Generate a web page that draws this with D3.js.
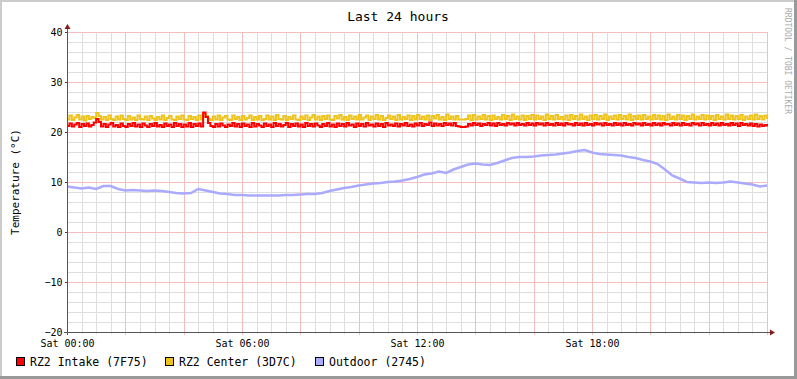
<!DOCTYPE html>
<html><head><meta charset="utf-8">
<script src="https://cdn.jsdelivr.net/npm/d3@7"></script>
<style>
html,body{margin:0;padding:0;background:#fff;}
text{font-family:"DejaVu Sans Mono",monospace;}
</style></head>
<body>
<svg id="chart" width="797" height="379"></svg>
<script>
// ---- data (5-min steps for RZ2 sensors, 15-min steps for outdoor) ----
const seriesNames = ["RZ2 Intake (7F75)", "RZ2 Center (3D7C)", "Outdoor (2745)"];
const seriesColors = ["#FF0000", "#EEC31E", "#AAAAFF"];
const yTicks = [-20, -10, 0, 10, 20, 30, 40];
const xTickHours = [0, 6, 12, 18];
const xTickLabels = ["Sat 00:00", "Sat 06:00", "Sat 12:00", "Sat 18:00"];

const intake = [
21.2,21.7,21.1,21.5,21.8,21.0,21.6,21.2,21.7,21.1,21.4,21.9,22.6,22.0,21.1,21.6,21.0,21.5,21.8,21.1,21.4,21.0,21.7,21.2,
21.0,21.6,21.2,21.8,21.1,21.5,21.0,21.7,21.3,21.0,21.6,21.2,21.8,21.1,21.4,21.0,21.7,21.2,21.5,21.0,21.8,21.2,21.6,21.0,
21.5,21.1,21.8,21.0,21.6,21.2,21.7,21.1,23.9,23.0,21.8,21.2,21.0,21.6,21.1,21.7,21.3,21.0,21.5,21.2,21.8,21.1,21.6,21.0,
21.7,21.2,21.5,21.0,21.8,21.1,21.6,21.3,21.0,21.7,21.2,21.5,21.0,21.8,21.2,21.6,21.1,21.4,21.8,21.0,21.6,21.2,21.7,21.1,
21.5,21.0,21.8,21.2,21.6,21.1,21.7,21.3,21.0,21.6,21.2,21.8,21.1,21.5,21.0,21.7,21.2,21.6,21.1,21.8,21.3,21.5,21.0,21.7,
21.2,21.6,21.1,21.8,21.3,21.5,21.1,21.7,21.2,21.6,21.0,21.8,21.3,21.5,21.2,21.7,21.1,21.6,21.3,21.8,21.2,21.5,21.1,21.7,
21.3,21.8,21.2,21.6,21.4,21.9,21.2,21.7,21.3,21.6,21.2,21.8,21.4,21.7,21.3,21.8,21.2,21.1,21.0,21.0,21.1,21.6,21.3,21.8,
21.4,21.7,21.2,21.6,21.4,21.8,21.3,21.7,21.2,21.8,21.4,21.6,21.3,21.8,21.5,21.7,21.3,21.8,21.4,21.6,21.3,21.8,21.4,21.7,
21.3,21.8,21.5,21.7,21.3,21.8,21.4,21.6,21.3,21.8,21.4,21.7,21.3,21.8,21.5,21.6,21.3,21.8,21.4,21.7,21.3,21.8,21.4,21.6,
21.3,21.8,21.5,21.7,21.3,21.8,21.4,21.6,21.3,21.8,21.4,21.7,21.3,21.8,21.4,21.6,21.3,21.8,21.5,21.7,21.3,21.8,21.4,21.6,
21.3,21.8,21.4,21.7,21.3,21.8,21.5,21.6,21.3,21.8,21.4,21.7,21.3,21.8,21.4,21.6,21.3,21.8,21.5,21.7,21.3,21.8,21.4,21.6,
21.3,21.8,21.4,21.7,21.3,21.8,21.4,21.6,21.3,21.8,21.4,21.7,21.2,21.8,21.4,21.6,21.3,21.7,21.2,21.6,21.1,21.5,21.2,21.4,
21.1
];
const center = [
22.5,23.3,22.4,22.9,23.4,22.5,23.1,22.3,23.2,22.6,23.0,22.8,23.8,23.2,22.5,23.0,22.4,23.3,22.6,22.4,23.1,22.5,23.3,22.6,
22.4,23.2,22.5,22.9,22.4,23.3,22.6,22.5,23.1,22.4,23.2,22.7,22.4,23.0,22.5,23.3,22.4,22.8,23.2,22.5,22.4,23.1,22.6,23.3,
22.5,22.4,23.2,22.6,23.0,22.4,23.3,22.5,23.6,23.2,22.6,22.4,23.1,22.5,23.3,22.4,22.9,23.2,22.5,22.4,23.3,22.6,23.0,22.4,
23.2,22.5,22.8,23.3,22.4,23.0,22.5,23.2,22.4,22.6,23.3,22.5,23.1,22.4,23.4,22.6,22.5,23.2,22.4,23.0,22.6,23.3,22.5,22.4,
23.1,22.6,23.3,22.4,22.9,23.4,22.5,23.1,22.4,23.2,22.6,23.3,22.5,22.4,23.2,22.7,23.4,22.5,23.0,22.4,23.3,22.6,23.1,22.5,
23.4,22.5,22.9,23.3,22.4,23.1,22.6,23.4,22.5,23.2,22.4,22.8,23.3,22.6,23.1,22.4,23.4,22.5,23.0,22.6,23.3,22.4,23.2,22.5,
23.4,22.6,23.1,22.5,23.3,22.4,23.2,22.7,23.4,22.5,23.0,22.4,23.5,22.6,23.1,22.5,23.2,22.5,22.5,22.5,22.6,23.3,22.4,23.4,
22.5,23.1,22.6,23.4,22.5,23.2,22.4,23.3,22.6,23.0,22.5,23.4,22.6,23.2,22.4,23.5,22.6,23.1,22.5,23.3,22.4,23.2,22.6,23.4,
22.5,23.3,22.6,23.1,22.4,23.5,22.6,23.2,22.5,23.4,22.6,23.0,22.5,23.3,22.4,23.4,22.6,23.2,22.5,23.5,22.6,23.1,22.4,23.3,
22.6,23.4,22.5,23.2,22.6,23.5,22.4,23.1,22.6,23.3,22.5,23.4,22.6,23.2,22.5,23.5,22.4,23.2,22.6,23.3,22.5,23.4,22.6,23.1,
22.5,23.4,22.6,23.3,22.5,23.2,22.4,23.5,22.6,23.1,22.5,23.4,22.6,23.3,22.4,23.2,22.6,23.5,22.5,23.1,22.6,23.4,22.5,23.3,
22.6,23.2,22.4,23.4,22.6,23.1,22.5,23.5,22.6,23.3,22.5,23.2,22.6,23.4,22.4,23.1,22.6,23.3,22.5,23.5,22.6,23.2,22.5,23.3,
22.6
];
const outdoor = [
9.1,8.9,8.7,8.9,8.6,9.2,9.2,8.6,8.3,8.4,8.3,8.2,8.3,8.2,8.0,7.8,7.7,7.8,8.6,8.3,
8.0,7.7,7.6,7.4,7.4,7.3,7.3,7.3,7.3,7.3,7.4,7.4,7.5,7.6,7.6,7.8,8.2,8.5,8.8,9.0,
9.3,9.5,9.7,9.8,10.0,10.1,10.3,10.6,11.0,11.5,11.7,12.1,11.8,12.5,13.0,13.5,13.7,13.5,13.4,13.8,
14.3,14.8,15.0,15.0,15.1,15.3,15.4,15.5,15.7,15.9,16.2,16.4,15.9,15.6,15.5,15.4,15.3,15.0,14.8,14.4,
14.1,13.6,12.5,11.3,10.7,10.0,9.9,9.8,9.9,9.8,9.9,10.1,9.9,9.7,9.5,9.1,9.3
];

// ---- layout ----
const svg = d3.select("#chart");
const X0 = 67, X1 = 767, Y0 = 32, Y1 = 332;
const x = d3.scaleLinear().domain([0, 24]).range([X0, X1]);
const y = d3.scaleLinear().domain([-20, 40]).range([Y1, Y0]);

// background + frame
svg.append("rect").attr("width", 797).attr("height", 379).attr("fill", "#fff");
svg.append("rect").attr("x", 0).attr("y", 0).attr("width", 797).attr("height", 2).attr("fill", "#CCCCCC");
svg.append("rect").attr("x", 0).attr("y", 0).attr("width", 2).attr("height", 379).attr("fill", "#CCCCCC");
svg.append("rect").attr("x", 0).attr("y", 376).attr("width", 797).attr("height", 3).attr("fill", "#999999");
svg.append("rect").attr("x", 794).attr("y", 0).attr("width", 3).attr("height", 379).attr("fill", "#999999");

// grid
const g = svg.append("g").attr("shape-rendering", "crispEdges");
const minorY = d3.range(-20, 40.01, 2).filter(v => v % 10 !== 0);
const minorX = d3.range(0, 24.01, 0.5).filter(h => h % 2 !== 0);
const majorX = d3.range(2, 24.01, 2);
g.selectAll(".mny").data(minorY).join("line")
  .attr("x1", X0).attr("x2", X1).attr("y1", d => Math.round(y(d)) + 0.5).attr("y2", d => Math.round(y(d)) + 0.5)
  .attr("stroke", "#DEDEDE");
g.selectAll(".mnx").data(minorX).join("line")
  .attr("y1", Y0).attr("y2", Y1 + 2).attr("x1", d => Math.round(x(d)) + 0.5).attr("x2", d => Math.round(x(d)) + 0.5)
  .attr("stroke", "#DEDEDE");
g.selectAll(".mjy").data(yTicks.filter(v => v !== -20)).join("line")
  .attr("x1", X0 - 2).attr("x2", X1).attr("y1", d => Math.round(y(d)) + 0.5).attr("y2", d => Math.round(y(d)) + 0.5)
  .attr("stroke", "#F4BEBE");
g.selectAll(".mjx").data(majorX).join("line")
  .attr("y1", Y0).attr("y2", Y1 + 3).attr("x1", d => Math.round(x(d)) + 0.5).attr("x2", d => Math.round(x(d)) + 0.5)
  .attr("stroke", "#F4BEBE");

// series
const lineStep = d3.line().x((d, i) => x(i / 12)).y(d => y(d)).curve(d3.curveStepAfter);
const lineOut = d3.line().x((d, i) => x(i / 4)).y(d => y(d));
svg.append("path").datum(center).attr("d", lineStep).attr("fill", "none")
  .attr("stroke", seriesColors[1]).attr("stroke-width", 2);
svg.append("path").datum(intake).attr("d", lineStep).attr("fill", "none")
  .attr("stroke", seriesColors[0]).attr("stroke-width", 2);
svg.append("path").datum(outdoor).attr("d", lineOut).attr("fill", "none")
  .attr("stroke", seriesColors[2]).attr("stroke-width", 2.5);

// axes
const yAxis = d3.axisLeft(y).tickValues(yTicks).tickSize(3).tickSizeOuter(0);
const ya = svg.append("g").attr("transform", `translate(${X0 + 0.5},0)`).call(yAxis);
ya.select(".domain").remove();
ya.selectAll(".tick line").attr("stroke", "#404040").attr("shape-rendering", "crispEdges");
ya.selectAll(".tick text").attr("font-size", 10).attr("fill", "#000").attr("x", -5)
  .attr("font-family", "DejaVu Sans Mono");

const xAxis = d3.axisBottom(x).tickValues(xTickHours).tickFormat((d, i) => xTickLabels[i]).tickSize(0).tickSizeOuter(0);
const xa = svg.append("g").attr("transform", `translate(0,${Y1})`).call(xAxis);
xa.select(".domain").remove();
xa.selectAll(".tick text").attr("font-size", 10).attr("fill", "#000").attr("y", 8)
  .attr("font-family", "DejaVu Sans Mono");

// axis lines and arrows
svg.append("line").attr("x1", X0 + 0.5).attr("x2", X0 + 0.5).attr("y1", Y1 + 3).attr("y2", Y0 - 4)
  .attr("stroke", "#555").attr("shape-rendering", "crispEdges");
svg.append("line").attr("x1", X0 - 3).attr("x2", X1 + 4).attr("y1", Y1 + 0.5).attr("y2", Y1 + 0.5)
  .attr("stroke", "#555").attr("shape-rendering", "crispEdges");
svg.append("path").attr("d", `M${X0 - 2.5},${Y0 - 3} L${X0 + 3.5},${Y0 - 3} L${X0 + 0.5},${Y0 - 8} Z`).attr("fill", "#8B1A1A");
svg.append("path").attr("d", `M${X1 + 3},${Y1 - 2.5} L${X1 + 3},${Y1 + 3.5} L${X1 + 8},${Y1 + 0.5} Z`).attr("fill", "#8B1A1A");

// title, y label, watermark
svg.append("text").attr("x", 398).attr("y", 21).attr("text-anchor", "middle")
  .attr("font-size", 13).attr("fill", "#000").text("Last 24 hours");
svg.append("text").attr("transform", "translate(19,182) rotate(-90)").attr("text-anchor", "middle")
  .attr("font-size", 11).attr("fill", "#000").text("Temperature (°C)");
svg.append("text").attr("transform", "translate(785,8) rotate(90)").attr("text-anchor", "start")
  .attr("font-size", 8).attr("fill", "#AAAAAA").text("RRDTOOL / TOBI OETIKER");

// legend
const legX = [16, 165, 315];
const leg = svg.append("g").selectAll("g").data(seriesNames).join("g")
  .attr("transform", (d, i) => `translate(${legX[i]},357)`);
leg.append("rect").attr("x", 0.5).attr("y", 0.5).attr("width", 8).attr("height", 8)
  .attr("fill", (d, i) => seriesColors[i]).attr("stroke", "#000").attr("shape-rendering", "crispEdges");
leg.append("text").attr("x", 14).attr("y", 8.5).attr("font-size", 11.5).attr("fill", "#000").text(d => d);
</script>
</body></html>
